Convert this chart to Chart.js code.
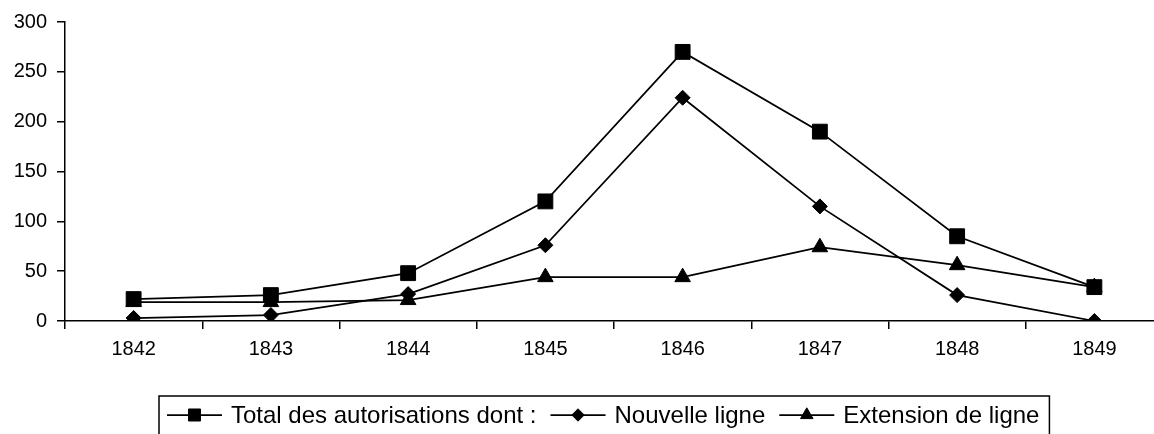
<!DOCTYPE html>
<html>
<head>
<meta charset="utf-8">
<script src="https://cdn.jsdelivr.net/npm/chart.js@4/dist/chart.umd.min.js"></script>
<style>
  html, body { margin: 0; padding: 0; background: #fff; overflow: hidden; }
  #wrap { position: relative; width: 1175px; height: 434px; }
</style>
</head>
<body>
<div id="wrap"><canvas id="chartAuth"></canvas></div>
<script>
var years = ['1842', '1843', '1844', '1845', '1846', '1847', '1848', '1849'];
var totalAuth = [22, 26, 48, 120, 270, 190, 85, 34];
var nouvelleLigne = [3, 6, 27, 76, 224, 115, 26, 0];
var extensionLigne = [19, 19, 21, 44, 44, 74, 56, 34];
var yTicks = [0, 50, 100, 150, 200, 250, 300];

var FONT = "'Liberation Sans', Arial, sans-serif";

/* legend drawn by hand: boxed, line + marker, like the old Excel one */
var boxLegend = {
  id: 'boxLegend',
  afterDraw: function(chart) {
    var ctx = chart.ctx;
    var sizes = { rect: 8.5, rectRot: 6.2, triangle: 7.2 };
    var x = 167, y = 415;
    ctx.save();
    ctx.font = '24px ' + FONT;
    ctx.textBaseline = 'middle';
    ctx.fillStyle = '#000';
    ctx.strokeStyle = '#000';
    chart.data.datasets.forEach(function(ds) {
      ctx.lineWidth = 1.75;
      ctx.beginPath();
      ctx.moveTo(x, y);
      ctx.lineTo(x + 55, y);
      ctx.stroke();
      ctx.lineWidth = 1;
      Chart.helpers.drawPoint(ctx, { pointStyle: ds.pointStyle, rotation: 0, radius: sizes[ds.pointStyle], borderWidth: 1 }, x + 27.5, y);
      ctx.fillText(ds.label, x + 64, y + 1);
      x = x + 64 + ctx.measureText(ds.label).width + 14;
    });
    ctx.lineWidth = 1.5;
    ctx.strokeRect(159, 396, x - 159 - 4, 60);
    ctx.restore();
  }
};

function series(label, data, style, radius) {
  return {
    label: label,
    data: data,
    borderColor: '#000',
    backgroundColor: '#000',
    borderWidth: 1.75,
    tension: 0,
    pointStyle: style,
    pointRadius: radius,
    pointHoverRadius: radius,
    pointBackgroundColor: '#000',
    pointBorderColor: '#000',
    pointBorderWidth: 1
  };
}

new Chart(document.getElementById('chartAuth'), {
  type: 'line',
  data: {
    labels: years,
    datasets: [
      series('Total des autorisations dont :', totalAuth, 'rect', 10.5),
      series('Nouvelle ligne', nouvelleLigne, 'rectRot', 7.5),
      series('Extension de ligne', extensionLigne, 'triangle', 9)
    ]
  },
  options: {
    responsive: true,
    maintainAspectRatio: false,
    animation: false,
    layout: { padding: { top: 14, right: 12, bottom: 73, left: 0 } },
    plugins: {
      legend: { display: false },
      tooltip: { enabled: false }
    },
    scales: {
      x: {
        offset: true,
        grid: { offset: true, drawOnChartArea: false, drawTicks: true, tickLength: 8, color: '#000', lineWidth: 1.5 },
        border: { color: '#000', width: 1.5 },
        ticks: { color: '#000', padding: 8, maxRotation: 0, font: { family: FONT, size: 20 } },
        afterFit: function(scale) { scale.height = 40; }
      },
      y: {
        min: 0,
        max: 300,
        afterBuildTicks: function(scale) {
          scale.ticks = yTicks.map(function(v) { return { value: v }; });
        },
        grid: { drawOnChartArea: false, drawTicks: true, tickLength: 8, color: '#000', lineWidth: 1.5 },
        border: { color: '#000', width: 1.5 },
        ticks: { color: '#000', padding: 10, font: { family: FONT, size: 20 } },
        afterFit: function(scale) { scale.width = 65; }
      }
    }
  },
  plugins: [boxLegend]
});
</script>
</body>
</html>
